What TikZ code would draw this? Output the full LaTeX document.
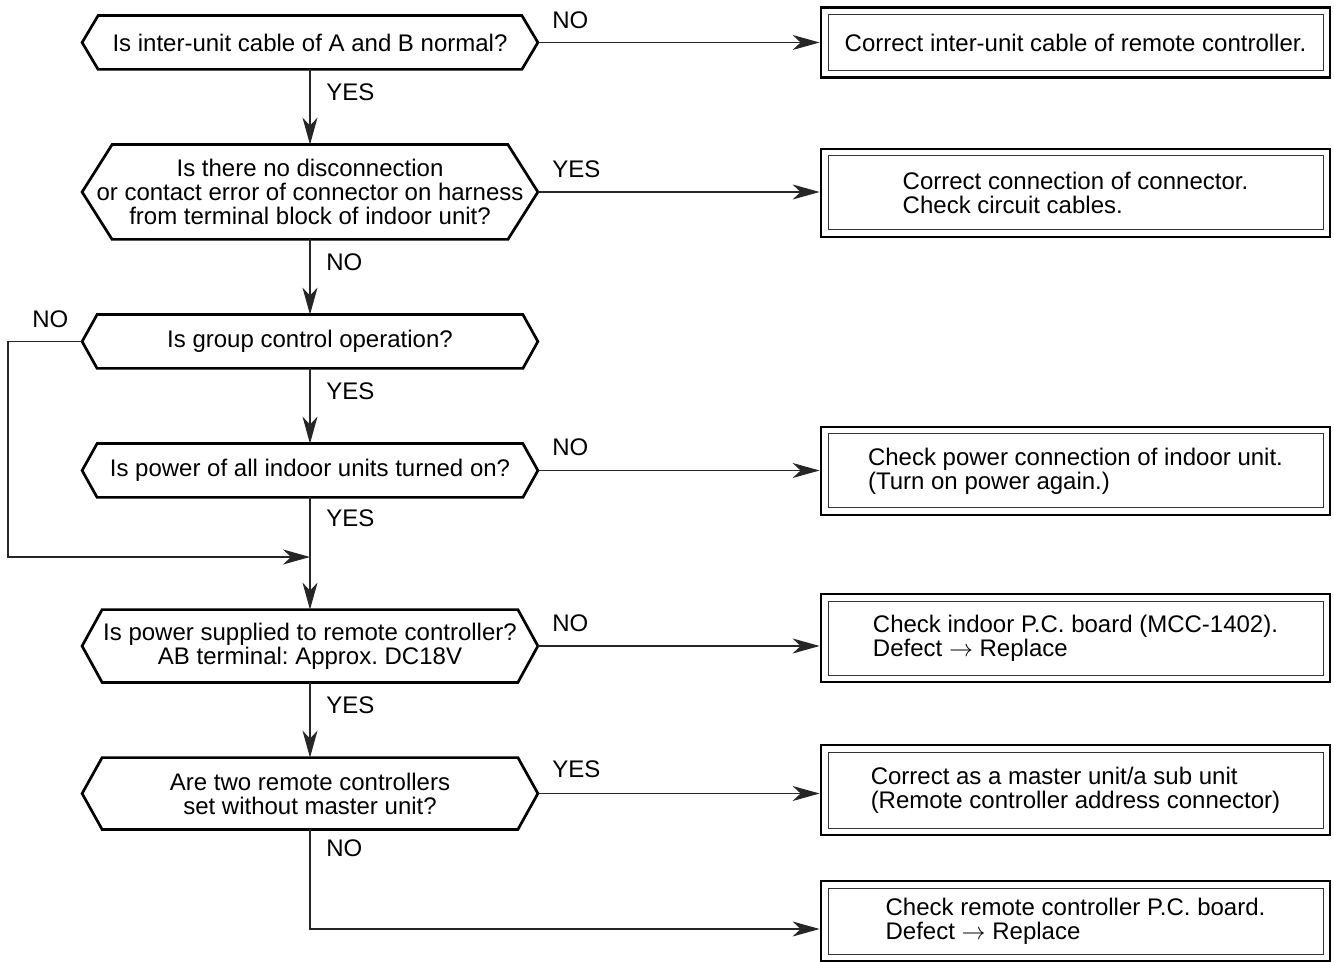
\documentclass[tikz,border=0pt]{standalone}
\usepackage{fontspec}
\setmainfont{Liberation Sans}
\usetikzlibrary{arrows.meta}
\frenchspacing
\tikzset{
  txt/.style={font=\fontsize{12}{12}\selectfont},
  conn/.style={line width=0.6pt, draw=black!85},
  arr/.style={conn, -{Stealth[length=13.5pt,width=7.5pt,inset=4pt]}},
  hexnode/.style={txt, inner sep=0pt, minimum width=227.5pt, align=center},
  hexline/.style={line width=1.35pt, line join=miter},
  actbox/.style={txt, draw, line width=1.4pt, minimum width=254.5pt, inner sep=0pt, align=left,
    path picture={\draw[line width=0.5pt, black!80]
      ([shift={(3.5pt,-3.5pt)}]path picture bounding box.north west) rectangle
      ([shift={(-3.5pt,3.5pt)}]path picture bounding box.south east);}},
  lab/.style={txt, anchor=west, inner sep=0pt}
}
\newcommand\hexframe[2]{\draw[hexline] (#1.west) -- ([xshift=#2]#1.north west) -- ([xshift=-#2]#1.north east) -- (#1.east) -- ([xshift=-#2]#1.south east) -- ([xshift=#2]#1.south west) -- cycle;}
\begin{document}
\begin{tikzpicture}[x=0.5pt,y=-0.5pt]
\useasboundingbox (0,0) rectangle (1334,962);
% decisions
\node[hexnode, minimum height=26.5pt] (d1) at (310,42.5) {Is inter-unit cable of A and B normal?};
\node[hexnode, minimum height=47pt] (d2) at (310,192) {Is there no disconnection\\or contact error of connector on harness\\from terminal block of indoor unit?};
\node[hexnode, minimum height=26.5pt] (d3) at (310,341.5) {Is group control operation?};
\node[hexnode, minimum height=26.5pt] (d4) at (310,470.5) {Is power of all indoor units turned on?};
\node[hexnode, minimum height=36pt] (d5) at (310,646) {Is power supplied to remote controller?\\AB terminal: Approx. DC18V};
\node[hexnode, minimum height=35.5pt] (d6) at (310,793.5) {Are two remote controllers\\set without master unit?};
\hexframe{d1}{8pt}
\hexframe{d2}{15pt}
\hexframe{d3}{7.5pt}
\hexframe{d4}{7.5pt}
\hexframe{d5}{10pt}
\hexframe{d6}{10pt}
% action boxes
\node[actbox, minimum height=35pt] (b1) at (1075.5,42.5) {Correct inter-unit cable of remote controller.};
\node[actbox, minimum height=44pt] (b2) at (1075.5,193) {Correct connection of connector.\\Check circuit cables.};
\node[actbox, minimum height=44pt] (b3) at (1075.5,471) {Check power connection of indoor unit.\\(Turn on power again.)};
\node[actbox, minimum height=44pt] (b4) at (1075.5,638) {Check indoor P.C. board (MCC-1402).\\Defect $\rightarrow$ Replace};
\node[actbox, minimum height=45pt] (b5) at (1075.5,790) {Correct as a master unit/a sub unit\\(Remote controller address connector)};
\node[actbox, minimum height=40pt] (b6) at (1075.5,921) {Check remote controller P.C. board.\\Defect $\rightarrow$ Replace};
% coordinates
\coordinate (lp1) at (8,341.5);
\coordinate (lp2) at (8,557);
\coordinate (mj) at (310,557);
\coordinate (c6) at (310,929);
% connectors
\draw[arr] (d1.east) -- (d1.east -| b1.west);
\draw[arr] (d1.south) -- (d2.north);
\draw[arr] (d2.east) -- (d2.east -| b2.west);
\draw[arr] (d2.south) -- (d3.north);
\draw[arr] (d3.south) -- (d4.north);
\draw[arr] (d3.west) -- (lp1) -- (lp2) -- (mj);
\draw[arr] (d4.east) -- (d4.east -| b3.west);
\draw[arr] (d4.south) -- (d5.north);
\draw[arr] (d5.east) -- (d5.east -| b4.west);
\draw[arr] (d5.south) -- (d6.north);
\draw[arr] (d6.east) -- (d6.east -| b5.west);
\draw[arr] (d6.south) -- (c6) -- (c6 -| b6.west);
% labels
\node[lab] (n1) at (552,20) {NO};
\node[lab] (y1) at (326,92) {YES};
\node[lab] (y2) at (552,169) {YES};
\node[lab] (n2) at (326,262) {NO};
\node[lab] (n3) at (32,319) {NO};
\node[lab] (y3) at (326,391) {YES};
\node[lab] (n4) at (552,447) {NO};
\node[lab] (y4) at (326,518) {YES};
\node[lab] (n5) at (552,623) {NO};
\node[lab] (y5) at (326,705) {YES};
\node[lab] (y6) at (552,769) {YES};
\node[lab] (n6) at (326,848) {NO};
\end{tikzpicture}
\end{document}
